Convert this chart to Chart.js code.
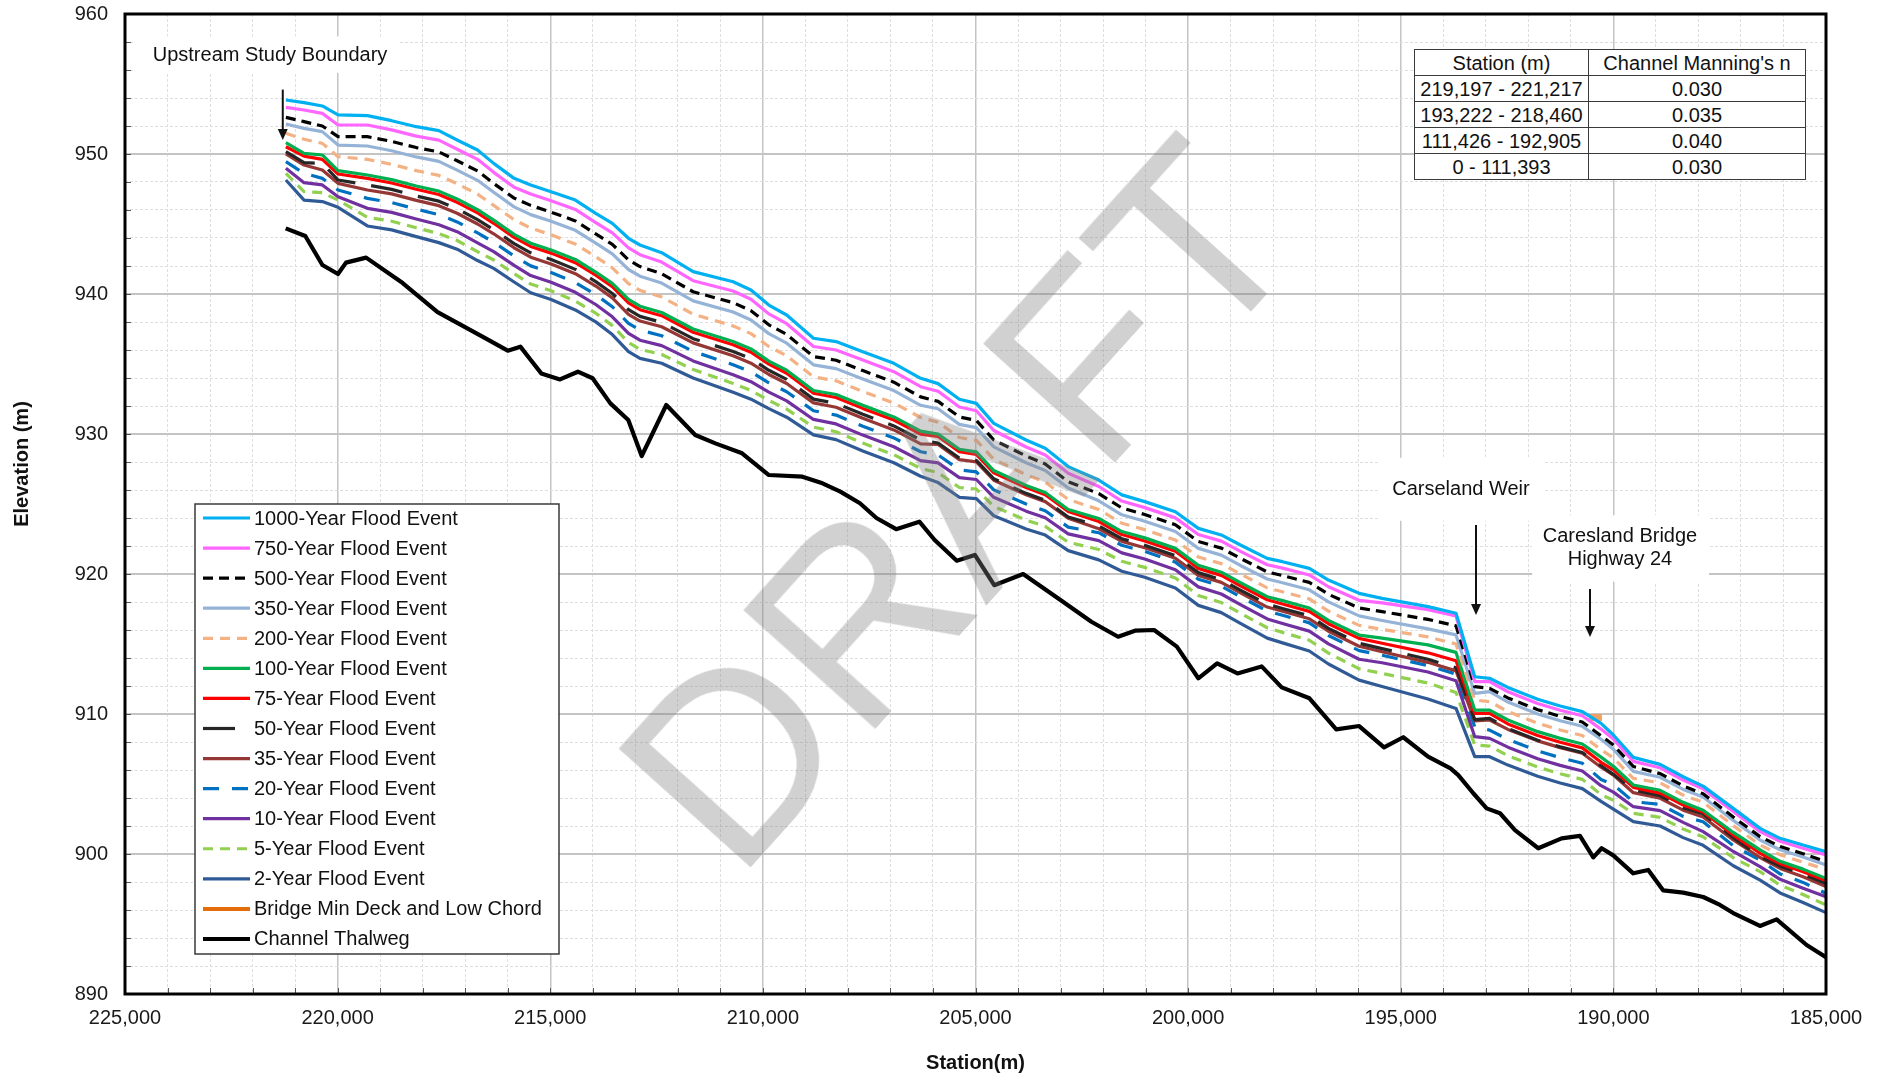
<!DOCTYPE html>
<html>
<head>
<meta charset="utf-8">
<script src="https://cdn.jsdelivr.net/npm/chart.js@4.4.1/dist/chart.umd.min.js"></script>
<style>
html,body{margin:0;padding:0;background:#fff;}
#wrap{position:relative;width:1883px;height:1078px;overflow:hidden;background:#fff;}
#chart{position:absolute;left:0;top:0;}
#tbl{position:absolute;left:1414px;top:49px;border-collapse:collapse;background:#fff;font-family:"Liberation Sans",Arial,sans-serif;font-size:20px;color:#111;}
#tbl td,#tbl th{border:1.5px solid #3a3a3a;padding:0 1px;height:25px;line-height:24px;text-align:center;font-weight:normal;white-space:nowrap;}
#tbl td.c1,#tbl th.c1{width:171px;}
#tbl td.c2,#tbl th.c2{width:214px;}
#draft{position:absolute;left:958px;top:504px;transform:translate(-50%,-50%) rotate(-48deg);font-family:"Liberation Sans",Arial,sans-serif;font-size:258px;line-height:1;color:rgba(128,128,128,0.36);white-space:nowrap;pointer-events:none;}
</style>
</head>
<body>
<div id="wrap">
<canvas id="chart" width="1883" height="1078"></canvas>
<table id="tbl"></table>
<div id="draft">DRAFT</div>
</div>
<script>
// ---------------- DATA ----------------
const floodStations = [221217,220790,220360,219990,219300,218730,218150,217620,217190,216710,
 216330,215850,215460,214980,214410,213930,213540,213160,212890,212380,
 211640,210700,210280,209860,209440,208810,208280,207650,206920,206290,
 205880,205380,204980,204570,203810,203360,202820,202100,201560,201020,
 200300,199760,199220,198770,198140,197780,197150,196700,195980,195440,
 194360,193700,193260,192910,192480,191780,191250,190730,190290,190000,
 189530,188900,188360,187890,187180,186550,186080,185540,185000];

const flood1000 = [953.86,953.67,953.43,952.79,952.74,952.38,951.95,951.67,951.00,950.29,
 949.33,948.26,947.79,947.31,946.71,945.76,945.05,943.98,943.50,942.95,
 941.60,940.88,940.29,939.21,938.50,936.84,936.60,935.88,935.05,933.98,
 933.60,932.48,932.19,930.76,929.57,928.98,927.67,926.71,925.65,925.17,
 924.45,923.26,922.79,922.07,921.12,920.88,920.40,919.57,918.62,918.26,
 917.67,917.20,912.66,912.55,911.90,911.05,910.57,910.17,909.33,908.50,
 906.90,906.40,905.52,904.85,903.26,901.83,901.12,900.64,900.16];
const flood750 = [953.33,953.14,952.90,952.07,952.07,951.72,951.28,950.99,950.34,949.62,
 948.69,947.63,947.14,946.66,946.04,945.10,944.37,943.29,942.81,942.28,
 940.95,940.21,939.63,938.58,937.88,936.25,936.00,935.28,934.45,933.38,
 933.05,931.93,931.66,930.25,929.07,928.50,927.20,926.25,925.21,924.74,
 924.01,922.82,922.35,921.62,920.66,920.42,919.93,919.09,918.12,917.94,
 917.45,917.00,912.31,912.31,911.59,910.75,910.27,909.87,908.92,908.21,
 906.62,906.16,905.28,904.65,903.03,901.60,900.91,900.41,899.93];
const flood500 = [952.62,952.31,952.00,951.24,951.24,950.90,950.46,950.15,949.52,948.79,
 947.90,946.85,946.33,945.85,945.22,944.29,943.54,942.44,941.96,941.45,
 940.16,939.38,938.81,937.80,937.11,935.53,935.27,934.53,933.70,932.65,
 932.33,931.22,930.97,929.57,928.43,927.86,926.59,925.74,924.72,924.25,
 923.52,922.32,921.85,921.12,920.15,919.89,919.40,918.55,917.57,917.31,
 916.76,916.30,911.95,911.83,911.15,910.31,909.83,909.43,908.45,907.78,
 906.25,905.74,904.87,904.30,902.64,901.24,900.53,900.02,899.45];
const flood350 = [952.14,951.83,951.60,950.64,950.57,950.23,949.79,949.47,948.85,948.12,
 947.27,946.22,945.67,945.19,944.55,943.63,942.86,941.75,941.27,940.78,
 939.51,938.71,938.14,937.17,936.49,934.94,934.67,933.93,933.10,932.05,
 931.80,930.69,930.46,929.08,927.95,927.40,926.14,925.23,924.23,923.77,
 923.03,921.83,921.35,920.61,919.64,919.37,918.87,918.01,917.01,916.68,
 916.08,915.65,911.47,911.60,910.85,910.00,909.52,909.12,908.20,907.49,
 905.90,905.48,904.61,904.07,902.40,901.00,900.30,899.78,899.21];
const flood200 = [951.48,951.05,950.76,949.81,949.62,949.26,948.81,948.47,947.88,947.13,
 946.33,945.30,944.71,944.23,943.57,942.66,941.87,940.74,940.26,939.79,
 938.56,937.72,937.17,936.25,935.58,934.08,933.80,933.04,932.21,931.18,
 930.84,929.75,929.54,928.19,927.09,926.56,925.33,924.60,923.63,923.17,
 922.43,921.22,920.74,920.00,919.01,918.73,918.22,917.35,916.33,916.05,
 915.51,915.00,911.00,910.88,910.18,909.34,908.86,908.46,907.45,906.86,
 905.40,905.08,904.21,903.70,902.03,900.64,899.95,899.41,898.90];
const flood100 = [950.81,950.05,949.93,948.81,948.50,948.17,947.71,947.35,946.79,946.02,
 945.28,944.26,943.63,943.15,942.47,941.57,940.76,939.61,939.13,938.68,
 937.50,936.61,936.08,935.21,934.56,933.11,932.82,932.05,931.22,930.20,
 929.99,928.91,928.72,927.39,926.33,925.82,924.61,923.97,923.03,922.58,
 921.83,920.62,920.13,919.38,918.38,918.10,917.57,916.69,915.64,915.42,
 914.94,914.40,910.28,910.28,909.57,908.74,908.26,907.86,906.92,906.27,
 904.93,904.55,903.69,903.12,901.54,900.29,899.48,898.92,898.26];
const flood75 = [950.52,949.85,949.62,948.57,948.26,947.93,947.48,947.11,946.55,945.79,
 945.05,944.04,943.40,942.92,942.24,941.34,940.52,939.36,938.88,938.45,
 937.27,936.38,935.84,934.99,934.34,932.91,932.61,931.83,931.00,929.99,
 929.82,928.73,928.55,927.23,926.17,925.66,924.46,923.75,922.82,922.36,
 921.62,920.40,919.90,919.16,918.16,917.86,917.33,916.45,915.40,915.05,
 914.37,913.80,910.05,910.04,909.29,908.46,907.98,907.58,906.55,906.01,
 904.76,904.35,903.50,903.00,901.35,900.05,899.31,898.73,898.10];
const flood50 = [950.17,949.38,949.33,948.14,947.79,947.47,947.00,946.63,946.09,945.31,
 944.60,943.60,942.94,942.46,941.76,940.88,940.04,938.88,938.40,937.97,
 936.81,935.90,935.38,934.55,933.90,932.49,932.19,931.41,930.58,929.57,
 929.36,928.28,928.11,926.80,925.76,925.26,924.07,923.43,922.52,922.06,
 921.32,920.10,919.60,918.85,917.84,917.54,917.01,916.12,915.05,914.67,
 913.91,913.30,909.60,909.69,908.96,908.13,907.65,907.25,906.30,905.69,
 904.57,904.16,903.30,902.88,901.17,899.81,899.13,898.55,897.90];
const flood35 = [950.00,949.21,948.86,947.90,947.43,947.15,946.69,946.31,945.77,945.00,
 944.30,943.30,942.63,942.15,941.45,940.57,939.72,938.55,938.07,937.66,
 936.51,935.59,935.06,934.25,933.61,932.22,931.91,931.12,930.29,929.29,
 929.25,928.17,928.01,926.70,925.66,925.17,923.98,923.23,922.33,921.88,
 921.13,919.90,919.40,918.65,917.64,917.34,916.80,915.91,914.84,914.45,
 913.69,913.08,909.50,909.57,908.90,908.08,907.60,907.20,906.20,905.64,
 904.38,903.98,903.13,902.65,901.00,899.75,898.97,898.38,897.67];
const flood20 = [949.45,948.62,948.26,947.43,946.83,946.53,946.06,945.67,945.15,944.36,
 943.70,942.71,942.01,941.53,940.82,939.95,939.09,937.90,937.42,937.02,
 935.90,934.95,934.44,933.66,933.02,931.66,931.35,930.55,929.72,928.73,
 928.51,927.44,927.29,926.01,925.00,924.52,923.35,922.95,922.05,921.61,
 920.85,919.63,919.13,918.37,917.36,917.05,916.51,915.61,914.53,914.20,
 913.46,912.85,909.09,908.85,908.18,907.36,906.88,906.48,905.32,904.95,
 903.74,903.54,902.69,902.30,900.59,899.57,898.58,897.97,897.19];
const flood10 = [948.98,947.95,947.79,946.95,946.12,945.83,945.36,944.95,944.45,943.65,
 943.03,942.04,941.32,940.84,940.12,939.25,938.37,937.18,936.70,936.31,
 935.22,934.24,933.74,932.99,932.37,931.04,930.72,929.92,929.09,928.10,
 927.94,926.88,926.75,925.48,924.49,924.02,922.87,922.38,921.51,921.07,
 920.31,919.08,918.57,917.81,916.79,916.47,915.92,915.01,913.91,913.66,
 913.00,912.37,908.38,908.26,907.63,906.81,906.33,905.93,904.88,904.42,
 903.38,903.10,902.26,901.60,900.18,899.10,898.19,897.56,896.95];
const flood5 = [948.62,947.31,947.24,946.71,945.48,945.20,944.73,944.31,943.82,943.02,
 942.43,941.45,940.71,940.23,939.49,938.63,937.74,936.53,936.05,935.68,
 934.61,933.61,933.11,932.40,931.78,930.49,930.16,929.35,928.52,927.54,
 927.24,926.18,926.07,924.82,923.85,923.40,922.27,921.75,920.91,920.47,
 919.71,918.47,917.96,917.20,916.16,915.83,915.27,914.35,913.23,912.90,
 912.21,911.54,907.78,907.71,907.02,906.21,905.73,905.33,904.24,903.84,
 902.90,902.62,901.78,901.23,899.73,898.74,897.77,897.11,896.36];
const flood2 = [948.14,946.71,946.60,946.19,944.86,944.58,944.10,943.67,943.20,942.39,
 941.83,940.86,940.09,939.61,938.86,938.01,937.10,935.88,935.40,935.05,
 934.00,932.98,932.49,931.81,931.20,929.94,929.60,928.78,927.95,926.98,
 926.53,925.48,925.39,924.16,923.22,922.78,921.67,921.01,920.20,919.77,
 919.00,917.76,917.24,916.47,915.42,915.08,914.50,913.57,912.42,911.96,
 911.07,910.40,906.95,906.95,906.35,905.55,905.07,904.67,903.76,903.20,
 902.31,902.00,901.17,900.62,899.16,898.14,897.22,896.54,895.81];

const thalwegStations = [221221,220760,220358,219991,219803,219330,218470,217650,217100,216520,
 216000,215703,215463,215211,214771,214350,214004,213586,213165,212850,
 212271,211590,211117,210489,209859,209071,208598,208178,207717,207330,
 206866,206320,205960,205440,205015,204560,203880,203002,202275,201647,
 201250,200800,200265,199760,199318,198840,198271,197800,197147,196517,
 195978,195393,194941,194358,193830,193647,193294,192980,192666,192314,
 191766,191217,190786,190472,190276,190002,189532,189180,188827,188357,
 187887,187494,187181,186553,186161,185456,185000];
const thalwegElev = [944.69,944.14,942.07,941.43,942.24,942.60,940.78,938.70,937.80,936.83,
 935.95,936.24,935.30,934.33,933.90,934.45,933.98,932.19,931.00,928.43,
 932.07,929.93,929.33,928.62,927.07,926.95,926.48,925.88,925.05,924.00,
 923.20,923.74,922.43,920.95,921.36,919.20,920.00,918.14,916.59,915.52,
 915.95,916.00,914.81,912.55,913.62,912.90,913.40,911.90,911.12,908.90,
 909.14,907.62,908.34,906.95,906.12,905.64,904.34,903.26,902.91,901.71,
 900.41,901.12,901.29,899.76,900.41,899.90,898.62,898.86,897.40,897.24,
 896.93,896.36,895.78,894.86,895.33,893.50,892.62];

const bridgeStations = [190570, 190270];
const bridgeElev = [909.75, 909.75];

const floodNames = ['1000-Year Flood Event','750-Year Flood Event','500-Year Flood Event','350-Year Flood Event',
 '200-Year Flood Event','100-Year Flood Event','75-Year Flood Event','50-Year Flood Event','35-Year Flood Event',
 '20-Year Flood Event','10-Year Flood Event','5-Year Flood Event','2-Year Flood Event'];
const bridgeName = 'Bridge Min Deck and Low Chord';
const thalwegName = 'Channel Thalweg';

const tableHeaders = ['Station (m)', "Channel Manning's n"];
const tableStationRanges = ['219,197 - 221,217','193,222 - 218,460','111,426 - 192,905','0 - 111,393'];
const tableManningN = ['0.030','0.035','0.040','0.030'];

const xTitle = 'Station(m)';
const yTitle = 'Elevation (m)';

// annotation labels (data coordinates)
const noteTexts = [
  {lines:['Upstream Study Boundary'], x:221590, y:[957.07]},
  {lines:['Carseland Weir'], x:193584, y:[926.07]},
  {lines:['Caresland Bridge','Highway 24'], x:189845, y:[922.71, 921.07]}
];
const noteBoxes = [
  {x1:224800, x2:218560, y1:958.4, y2:955.8},
  {x1:195540, x2:191660, y1:928.3, y2:923.8},
  {x1:191910, x2:187750, y1:924.2, y2:919.45}
];
const noteArrows = [
  {x:221290, from:954.6, to:951.0},
  {x:193230, from:923.5, to:917.07},
  {x:190550, from:918.93, to:915.5}
];

// ---------------- STYLES ----------------
const floodStyles = [
  {color:'#00B0F0', dash:[]},
  {color:'#FF66FF', dash:[]},
  {color:'#000000', dash:[10,6]},
  {color:'#95B3D7', dash:[]},
  {color:'#F4B183', dash:[10,7]},
  {color:'#00B050', dash:[]},
  {color:'#FF0000', dash:[]},
  {color:'#262626', dash:[32,16]},
  {color:'#953735', dash:[]},
  {color:'#0070C0', dash:[16,13]},
  {color:'#7030A0', dash:[]},
  {color:'#92D050', dash:[10,7]},
  {color:'#2F5A96', dash:[]}
];
const FONT = '"Liberation Sans", Arial, sans-serif';

// ---------------- TABLE ----------------
(function(){
  const t = document.getElementById('tbl');
  let h = '<tr><th class="c1">'+tableHeaders[0]+'</th><th class="c2">'+tableHeaders[1]+'</th></tr>';
  tableStationRanges.forEach((s,i)=>{ h += '<tr><td class="c1">'+s+'</td><td class="c2">'+tableManningN[i]+'</td></tr>'; });
  t.innerHTML = h;
})();

// ---------------- DATASETS ----------------
const floodSeries = [flood1000,flood750,flood500,flood350,flood200,flood100,flood75,flood50,flood35,flood20,flood10,flood5,flood2];
const datasets = floodSeries.map((vals,i)=>({
  label: floodNames[i],
  data: floodStations.map((s,j)=>({x:s, y:vals[j]})),
  borderColor: floodStyles[i].color,
  borderDash: floodStyles[i].dash,
  borderWidth: 3.2,
  pointRadius: 0,
  fill: false,
  tension: 0,
  borderJoinStyle: 'round'
}));
datasets.push({
  label: bridgeName,
  data: bridgeStations.map((s,j)=>({x:s, y:bridgeElev[j]})),
  borderColor: '#F0A060',
  borderWidth: 7,
  pointRadius: 0,
  fill:false,
  legendColor: '#E46C0A'
});
datasets.push({
  label: thalwegName,
  data: thalwegStations.map((s,j)=>({x:s, y:thalwegElev[j]})),
  borderColor: '#000000',
  borderWidth: 4.2,
  pointRadius: 0,
  fill:false,
  tension:0,
  borderJoinStyle:'round'
});

// ---------------- PLUGIN ----------------
const legendBox = {left:195, top:504, width:364, height:450, firstRow:14, rowGap:30.07, lineX1:8, lineX2:55, textX:59};

const decor = {
  id:'decor',
  beforeDatasetsDraw(chart){
    const {ctx, chartArea:a, scales:{x,y}} = chart;
    ctx.save();
    ctx.strokeStyle = '#555'; ctx.lineWidth = 1;
    x.ticks.forEach(t=>{ const px = Math.round(x.getPixelForValue(t.value))+0.5; ctx.beginPath(); ctx.moveTo(px, a.bottom); ctx.lineTo(px, a.bottom-6); ctx.stroke(); });
    y.ticks.forEach(t=>{ const py = Math.round(y.getPixelForValue(t.value))+0.5; ctx.beginPath(); ctx.moveTo(a.left, py); ctx.lineTo(a.left+6, py); ctx.stroke(); });
    ctx.fillStyle = '#fff';
    noteBoxes.forEach(b=>{
      const x1=x.getPixelForValue(b.x1), x2=x.getPixelForValue(b.x2), y1=y.getPixelForValue(b.y1), y2=y.getPixelForValue(b.y2);
      ctx.fillRect(Math.min(x1,x2), Math.min(y1,y2), Math.abs(x2-x1), Math.abs(y2-y1));
    });
    ctx.restore();
  },
  afterDatasetsDraw(chart){
    const {ctx, chartArea:a, scales:{x,y}} = chart;
    ctx.save();
    ctx.font = '20px '+FONT; ctx.fillStyle = '#111'; ctx.textAlign='center'; ctx.textBaseline='middle';
    noteTexts.forEach(n=>{ n.lines.forEach((l,i)=>ctx.fillText(l, x.getPixelForValue(n.x), y.getPixelForValue(n.y[i]))); });
    ctx.strokeStyle='#111'; ctx.fillStyle='#111'; ctx.lineWidth=2;
    noteArrows.forEach(ar=>{
      const px = x.getPixelForValue(ar.x), p1 = y.getPixelForValue(ar.from), p2 = y.getPixelForValue(ar.to);
      ctx.beginPath(); ctx.moveTo(px, p1); ctx.lineTo(px, p2-10); ctx.stroke();
      ctx.beginPath(); ctx.moveTo(px-5, p2-11); ctx.lineTo(px+5, p2-11); ctx.lineTo(px, p2); ctx.closePath(); ctx.fill();
    });
    const b = legendBox;
    ctx.fillStyle='#fff'; ctx.fillRect(b.left,b.top,b.width,b.height);
    ctx.strokeStyle='#3a3a3a'; ctx.lineWidth=1.5; ctx.strokeRect(b.left,b.top,b.width,b.height);
    ctx.textAlign='left'; ctx.textBaseline='middle'; ctx.font='20px '+FONT;
    chart.data.datasets.forEach((ds,i)=>{
      const cy = b.top + b.firstRow + i*b.rowGap;
      ctx.save();
      ctx.strokeStyle = ds.legendColor || ds.borderColor;
      ctx.lineWidth = Math.min(ds.borderWidth, 4);
      ctx.setLineDash(ds.borderDash || []);
      ctx.beginPath(); ctx.moveTo(b.left+b.lineX1, cy); ctx.lineTo(b.left+b.lineX2, cy); ctx.stroke();
      ctx.restore();
      ctx.fillStyle='#111';
      ctx.fillText(ds.label, b.left+b.textX, cy+1);
    });
    ctx.strokeStyle='#000'; ctx.lineWidth=3; ctx.setLineDash([]);
    ctx.strokeRect(a.left, a.top, a.right-a.left, a.bottom-a.top);
    ctx.save();
    ctx.translate(22, 464); ctx.rotate(-Math.PI/2);
    ctx.font='bold 20px '+FONT; ctx.fillStyle='#111'; ctx.textAlign='center'; ctx.textBaseline='middle';
    ctx.fillText(yTitle, 0, 0);
    ctx.restore();
    ctx.restore();
  }
};

const MAJOR = '#C4C4C4', MINOR = '#DEDEDE';
new Chart(document.getElementById('chart'), {
  type:'line',
  data:{datasets},
  plugins:[decor],
  options:{
    responsive:false, animation:false, devicePixelRatio:1, events:[],
    layout:{padding:{top:14, right:57, left:0, bottom:0}},
    plugins:{legend:{display:false}, tooltip:{enabled:false}},
    scales:{
      x:{
        type:'linear', reverse:true, min:185000, max:225000,
        afterFit(s){ s.height = 84; },
        ticks:{stepSize:1000, maxTicksLimit:100, autoSkip:false, maxRotation:0, padding:12, color:'#1a1a1a',
          font:{family:FONT, size:20},
          callback:v=> (v % 5000 === 0) ? v.toLocaleString('en-US') : ''},
        grid:{drawTicks:false, color:c=> (c.tick && c.tick.value % 5000 === 0) ? MAJOR : MINOR,
          lineWidth:c=> (c.tick && c.tick.value % 5000 === 0) ? 1.5 : 1},
        border:{display:false, dash:c=> (c.tick && c.tick.value % 5000 === 0) ? [] : [3,2]},
        title:{display:true, text:xTitle, color:'#111', font:{family:FONT, size:20, weight:'bold'}, padding:{top:0,bottom:3}}
      },
      y:{
        type:'linear', min:890, max:960,
        afterFit(s){ s.width = 125; },
        ticks:{stepSize:2, maxTicksLimit:100, autoSkip:false, padding:0, color:'#1a1a1a',
          font:{family:FONT, size:20},
          callback:v=> (v % 10 === 0) ? String(v) : ''},
        grid:{drawTicks:true, tickLength:17, tickColor:'rgba(0,0,0,0)',
          color:c=> (c.tick && c.tick.value % 10 === 0) ? MAJOR : MINOR,
          lineWidth:c=> (c.tick && c.tick.value % 10 === 0) ? 2 : 1},
        border:{display:false, dash:c=> (c.tick && c.tick.value % 10 === 0) ? [] : [3,2]}
      }
    }
  }
});
</script>
</body>
</html>
